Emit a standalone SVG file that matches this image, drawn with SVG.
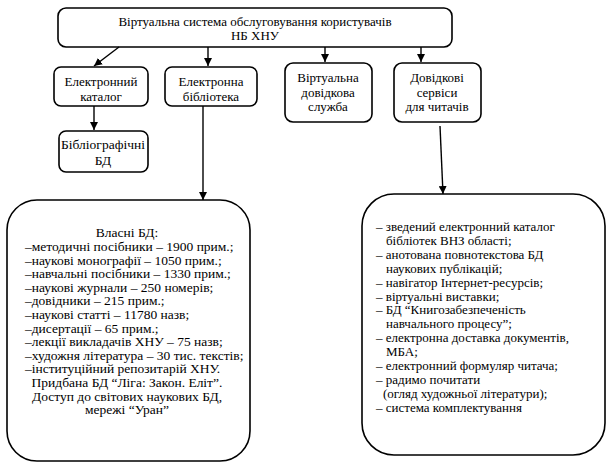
<svg xmlns="http://www.w3.org/2000/svg" width="611" height="466" viewBox="0 0 611 466">
<style>
.b{fill:#fff;stroke:#000;stroke-width:1.6}
.c{text-anchor:middle}
.l{stroke:#000;stroke-width:1.4;fill:none}
</style>
<defs>
<marker id="ah" viewBox="0 0 10 10" refX="10" refY="5" markerWidth="8" markerHeight="8" markerUnits="userSpaceOnUse" orient="auto">
<path d="M0,0 L10,5 L0,10 z" fill="#000"/>
</marker>
</defs>
<rect width="611" height="466" fill="#fff"/>
<g font-family="'Liberation Serif', 'DejaVu Serif', serif" font-size="13" fill="#000">
<g id="top">
<rect class="b" x="58" y="8" width="394" height="39" rx="8"/>
<text class="c" x="255" y="26">Віртуальна система обслуговування користувачів</text>
<text class="c" x="255" y="40">НБ ХНУ</text>
</g>
<g id="katalog">
<rect class="b" x="54" y="67" width="94" height="39" rx="7"/>
<text class="c" x="101" y="86">Електронний</text>
<text class="c" x="101" y="101">каталог</text>
</g>
<g id="biblioteka">
<rect class="b" x="165" y="67" width="92" height="39" rx="7"/>
<text class="c" x="211" y="86">Електронна</text>
<text class="c" x="211" y="101">бібліотека</text>
</g>
<g id="vdsluzhba">
<rect class="b" x="285" y="63" width="87" height="59" rx="8"/>
<text class="c" x="328" y="82">Віртуальна</text>
<text class="c" x="328" y="97">довідкова</text>
<text class="c" x="328" y="111">служба</text>
</g>
<g id="servisy">
<rect class="b" x="394" y="63" width="87" height="59" rx="8"/>
<text class="c" x="437" y="82">Довідкові</text>
<text class="c" x="437" y="97">сервіси</text>
<text class="c" x="437" y="111">для читачів</text>
</g>
<g id="bibliograf">
<rect class="b" x="59" y="131" width="89" height="41" rx="7"/>
<text class="c" x="103" y="149" font-size="13.5">Бібліографічні</text>
<text class="c" x="103" y="165" font-size="13.5">БД</text>
</g>
<g id="vlasni" font-size="13.5">
<rect class="b" x="7" y="200" width="243" height="261" rx="30"/>
<text class="c" x="127" y="237">Власні БД:</text>
<text x="25" y="251">–методичні посібники – 1900 прим.;</text>
<text x="25" y="264.6">–наукові монографії – 1050 прим.;</text>
<text x="25" y="278.2">–навчальні посібники – 1330 прим.;</text>
<text x="25" y="291.8">–наукові журнали – 250 номерів;</text>
<text x="25" y="305.4">–довідники – 215 прим.;</text>
<text x="25" y="319">–наукові статті – 11780 назв;</text>
<text x="25" y="332.6">–дисертації – 65 прим.;</text>
<text x="25" y="346.2">–лекції викладачів ХНУ – 75 назв;</text>
<text x="25" y="359.8">–художня література – 30 тис. текстів;</text>
<text x="25" y="373.4">–інституційний репозитарій ХНУ.</text>
<text class="c" x="127" y="387">Придбана БД “Ліга: Закон. Еліт”.</text>
<text class="c" x="127" y="400.6">Доступ до світових наукових БД,</text>
<text class="c" x="127" y="414.2">мережі “Уран”</text>
</g>
<g id="servisy-list">
<rect class="b" x="362" y="194" width="243" height="261" rx="32"/>
<text x="376" y="231">– зведений електронний каталог</text>
<text x="386" y="244.9">бібліотек ВНЗ області;</text>
<text x="376" y="258.8">– анотована повнотекстова БД</text>
<text x="386" y="272.7">наукових публікацій;</text>
<text x="376" y="286.6">– навігатор Інтернет-ресурсів;</text>
<text x="376" y="300.5">– віртуальні виставки;</text>
<text x="376" y="314.4">– БД “Книгозабезпеченість</text>
<text x="386" y="328.3">навчального процесу”;</text>
<text x="376" y="342.2">– електронна доставка документів,</text>
<text x="386" y="356.1">МБА;</text>
<text x="376" y="370">– електронний формуляр читача;</text>
<text x="376" y="383.9">– радимо почитати</text>
<text x="383" y="397.8">(огляд художньої літератури);</text>
<text x="376" y="411.7">– система комплектування</text>
</g>
</g>
<g id="connectors">
<line class="l" x1="119" y1="47" x2="94" y2="66" marker-end="url(#ah)"/>
<line class="l" x1="208" y1="47" x2="208" y2="66" marker-end="url(#ah)"/>
<line class="l" x1="325" y1="47" x2="325" y2="62" marker-end="url(#ah)"/>
<line class="l" x1="421" y1="47" x2="421" y2="62" marker-end="url(#ah)"/>
<line class="l" x1="94" y1="106" x2="94" y2="130" marker-end="url(#ah)"/>
<line class="l" x1="203" y1="106" x2="203" y2="200" marker-end="url(#ah)"/>
<line class="l" x1="440" y1="126" x2="443" y2="194" marker-end="url(#ah)"/>
</g>
</svg>
